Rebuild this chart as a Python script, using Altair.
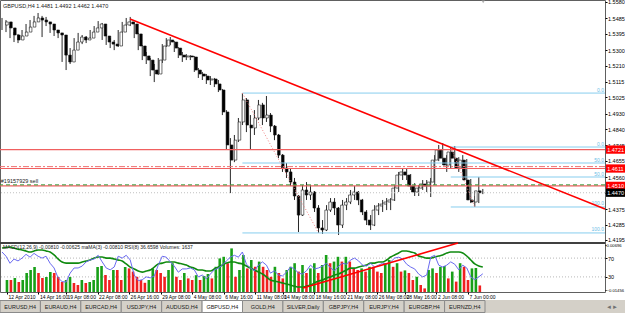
import altair as alt
import pandas as pd

# ---------------- data ----------------
first_open = 1.5446
closes = [1.5464,1.5429,1.5388,1.5359,1.5382,1.5405,1.5434,1.5464,1.5487,1.5475,
          1.5464,1.5452,1.5417,1.5400,1.5388,1.5271,1.5231,1.5300,1.5347,1.5376,
          1.5359,1.5370,1.5405,1.5429,1.5452,1.5382,1.5347,1.5335,1.5324,1.5405,
          1.5446,1.5464,1.5452,1.5394,1.5324,1.5266,1.5242,1.5184,1.5161,1.5242,
          1.5324,1.5359,1.5347,1.5312,1.5271,1.5260,1.5266,1.5260,1.5184,1.5161,
          1.5149,1.5126,1.5132,1.5103,1.5068,1.4940,1.4748,1.4660,1.4776,1.4882,
          1.5010,1.4864,1.4847,1.4905,1.4981,1.4905,1.4922,1.4858,1.4806,1.4689,
          1.4614,1.4591,1.4532,1.4451,1.4340,1.4486,1.4457,1.4474,1.4381,1.4265,
          1.4253,1.4369,1.4416,1.4381,1.4282,1.4398,1.4416,1.4457,1.4474,1.4428,
          1.4358,1.4311,1.4282,1.4369,1.4393,1.4404,1.4416,1.4428,1.4497,1.4573,
          1.4591,1.4573,1.4509,1.4474,1.4497,1.4521,1.4509,1.4532,1.4660,1.4719,
          1.4671,1.4631,1.4707,1.4671,1.4614,1.4660,1.4544,1.4428,1.4416,1.4481,
          1.4470]
highs = [1.5487,1.5475,1.5440,1.5405,1.5394,1.5417,1.5452,1.5475,1.5499,1.5516,
         1.5499,1.5493,1.5464,1.5440,1.5411,1.5394,1.5300,1.5312,1.5370,1.5400,
         1.5388,1.5382,1.5417,1.5440,1.5469,1.5458,1.5394,1.5370,1.5359,1.5417,
         1.5464,1.5487,1.5493,1.5464,1.5400,1.5330,1.5289,1.5254,1.5219,1.5254,
         1.5335,1.5370,1.5376,1.5353,1.5318,1.5289,1.5277,1.5271,1.5266,1.5196,
         1.5173,1.5161,1.5149,1.5138,1.5126,1.5074,1.4951,1.4788,1.4806,1.4905,
         1.5050,1.5021,1.4922,1.4951,1.5010,1.4993,1.5033,1.4934,1.4864,1.4812,
         1.4695,1.4643,1.4614,1.4556,1.4457,1.4515,1.4532,1.4515,1.4480,1.4398,
         1.4311,1.4398,1.4439,1.4439,1.4387,1.4428,1.4439,1.4486,1.4509,1.4480,
         1.4434,1.4369,1.4340,1.4398,1.4410,1.4428,1.4439,1.4439,1.4515,1.4591,
         1.4614,1.4614,1.4579,1.4526,1.4515,1.4544,1.4544,1.4556,1.4689,1.4748,
         1.4759,1.4689,1.4730,1.4742,1.4677,1.4689,1.4666,1.4550,1.4451,1.4561,
         1.4492]
lows = [1.5417,1.5405,1.5370,1.5347,1.5341,1.5370,1.5400,1.5423,1.5452,1.5464,
        1.5376,1.5440,1.5400,1.5382,1.5370,1.5231,1.5184,1.5219,1.5289,1.5341,
        1.5335,1.5341,1.5359,1.5394,1.5417,1.5359,1.5330,1.5312,1.5300,1.5318,
        1.5400,1.5440,1.5440,1.5370,1.5300,1.5242,1.5219,1.5149,1.5114,1.5155,
        1.5225,1.5318,1.5330,1.5289,1.5254,1.5231,1.5242,1.5242,1.5173,1.5138,
        1.5126,1.5103,1.5097,1.5085,1.5056,1.4922,1.4719,1.4468,1.4648,1.4765,
        1.4864,1.4823,1.4719,1.4806,1.4893,1.4864,1.4882,1.4823,1.4776,1.4671,
        1.4591,1.4556,1.4509,1.4428,1.4241,1.4335,1.4428,1.4428,1.4358,1.4236,
        1.4230,1.4247,1.4358,1.4340,1.4224,1.4265,1.4369,1.4404,1.4428,1.4398,
        1.4340,1.4282,1.4253,1.4276,1.4340,1.4358,1.4369,1.4369,1.4422,1.4474,
        1.4544,1.4544,1.4486,1.4451,1.4451,1.4486,1.4474,1.4445,1.4515,1.4654,
        1.4631,1.4591,1.4614,1.4648,1.4591,1.4591,1.4515,1.4410,1.4387,1.4410,
        1.4462]
volumes = [3000,3000,3500,2500,3000,4750,5500,6250,4750,3500,
           3750,5000,4750,3750,2500,3000,3750,2250,1750,3000,
           2250,2500,3000,6250,6500,4250,3000,5500,5500,3000,
           6250,5900,5100,3800,3000,2300,3000,5900,5500,4750,
           3800,5500,7200,3800,3000,4750,3400,3000,4200,3000,
           4000,4500,3400,6300,8400,8800,7200,10900,3800,5500,
           9250,5900,8000,6300,7600,6300,5500,3800,6300,4750,
           3400,5500,6300,7200,5100,6750,4750,5900,7200,4750,
           6750,9250,7200,7600,8800,7600,8800,7600,5900,5500,
           5900,5100,6300,6300,5100,4750,7200,8000,6300,7200,
           5100,5400,4750,3000,3800,1750,900,5500,5900,4750,
           6300,6500,3400,5100,2600,7200,6300,3000,5900,6000,
           1637]
rsi_vals = [83,74,59,68,64,70,78,72,80,74,
            70,74,59,49,28,20,19,38,49,49,
            53,62,66,68,76,62,49,45,51,74,
            70,76,66,34,22,24,30,28,32,55,
            74,72,62,53,40,47,47,49,45,30,
            34,26,36,45,49,55,64,72,76,72,
            83,57,49,43,55,62,55,38,43,34,
            32,40,51,47,38,36,43,55,47,49,
            53,59,49,43,53,59,57,66,70,64,
            55,53,59,51,55,59,57,62,70,72,
            68,57,51,47,36,30,34,72,76,55,
            51,55,62,57,45,55,49,30,24,30,
            36.66]
osc_vals = [0.0055,0.0058,0.0060,0.0055,0.0050,0.0046,0.0041,0.0036,0.0041,0.0046,
            0.0046,0.0041,0.0036,0.0022,0.0003,-0.0012,-0.0017,-0.0017,-0.0017,-0.0017,
            -0.0012,-0.0007,-0.0002,0.0007,0.0012,0.0012,0.0007,0.0007,0.0003,-0.0002,
            -0.0007,-0.0021,-0.0036,-0.0045,-0.0055,-0.0060,-0.0055,-0.0050,-0.0036,-0.0021,
            -0.0017,-0.0012,-0.0012,-0.0012,-0.0017,-0.0021,-0.0026,-0.0036,-0.0041,-0.0050,
            -0.0050,-0.0055,-0.0055,-0.0045,-0.0036,-0.0026,-0.0017,-0.0012,-0.0012,-0.0017,
            -0.0021,-0.0031,-0.0041,-0.0050,-0.0060,-0.0069,-0.0083,-0.0098,-0.0103,-0.0107,
            -0.0112,-0.0117,-0.0122,-0.0127,-0.0131,-0.0131,-0.0127,-0.0122,-0.0112,-0.0103,
            -0.0098,-0.0088,-0.0083,-0.0074,-0.0069,-0.0060,-0.0050,-0.0041,-0.0041,-0.0036,
            -0.0031,-0.0026,-0.0017,-0.0017,-0.0012,-0.0012,-0.0002,0.0012,0.0022,0.0031,
            0.0041,0.0041,0.0036,0.0031,0.0017,0.0012,0.0007,0.0007,0.0012,0.0017,
            0.0022,0.0031,0.0036,0.0036,0.0036,0.0031,0.0017,-0.0002,-0.0021,-0.0031,
            -0.0036]

time_idx = [0, 8, 15, 23, 31, 39, 47, 55, 63, 70, 78, 86, 94, 101, 109, 117]
time_lbl = ["12 Apr 2010", "14 Apr 16:00", "19 Apr 08:00", "22 Apr 08:00", "26 Apr 16:00",
            "29 Apr 08:00", "4 May 08:00", "6 May 16:00", "11 May 08:00", "14 May 08:00",
            "18 May 16:00", "21 May 08:00", "26 May 08:00", "28 May 16:00", "2 Jun 08:00",
            "7 Jun 00:00"]
price_ticks = [1.5580, 1.5485, 1.5395, 1.5300, 1.5210, 1.5115, 1.5025, 1.4930, 1.4840,
               1.4745, 1.4655, 1.4560, 1.4470, 1.4375, 1.4285, 1.4195]

trend_i = [31.95, 150.5]
trend_p = [1.5481, 1.4375]
ind_trend_i = [75.1, 113.8]
ind_trend_v = [-0.0136, 0.0079]

red_levels = [1.4721, 1.4611, 1.4510]
sl_level = [1.4622]
order_level = [1.4516]
bid_level = [1.4470]

fib_start = [60, 112]
fib_end_i = [79, 118]
fib_top = [1.5050, 1.4736]
fib_mid = [1.4643, 1.45615]
fib_bot = [1.4236, 1.4387]

tabs = ["EURUSD,H4", "EURAUD,H4", "EURCAD,H4", "USDJPY,H4", "AUDUSD,H4", "GBPUSD,H4",
        "GOLD,H4", "SILVER,Daily", "GBPJPY,H4", "EURJPY,H4", "EURGBP,H4", "EURNZD,H4"]
active_tab = "GBPUSD,H4"

header_main = "GBPUSD,H4  1.4481 1.4492 1.4462 1.4470"
header_ind = "MACD(12,26,9) -0.00810 -0.00625  maMA(3) -0.00810  RSI(8) 36.6598  Volumes: 1637"
order_text = "#19157929 sell"

# ---------------- tables ----------------
n = len(closes)
opens = [first_open] + closes[:-1]
bars = pd.DataFrame({"i": list(range(n)), "open": opens, "high": highs, "low": lows,
                     "close": closes, "vol": volumes, "rsi": rsi_vals, "osc": osc_vals})
bars["dir"] = ["up" if c >= o else "down" for o, c in zip(opens, closes)]
bars["vdir"] = ["up"] + ["up" if v > p else "down" for p, v in zip(volumes[:-1], volumes[1:])]

FONT = "Liberation Sans"
XD = [-0.5, 150.5]
XR = 150.5


def xs():
    return alt.Scale(domain=XD, nice=False, zero=False)


def py():
    return alt.Scale(domain=[1.41775, 1.55858], range=[243, 1], nice=False, zero=False)


def vs():
    return alt.Scale(domain=[0, 12000], range=[292, 244], nice=False, zero=False)


def rs():
    return alt.Scale(domain=[0, 100], range=[291, 244], nice=False, zero=False)


def ms():
    return alt.Scale(domain=[-0.01456, 0.00696], range=[290, 245], nice=False, zero=False)


def X(field="i", axis=None):
    return alt.X(field, type="quantitative", scale=xs(), axis=axis)


def right_axis(values, fmt=None, size=5.5, tick=2, pad=0.5):
    kw = dict(orient="right", values=values, labelFontSize=size, labelFont=FONT,
              labelColor="black", tickSize=tick, tickColor="black", labelPadding=pad, domain=False,
              grid=False, title=None, labelOverlap=False)
    if fmt:
        kw["format"] = fmt
    return alt.Axis(**kw)


layers = []

# candles
wick = alt.Chart(bars).mark_rule(color="#101010", strokeWidth=0.9).encode(
    x=X(), y=alt.Y("low:Q", scale=py(), axis=right_axis(price_ticks, ".4f")),
    y2="high:Q")
body = alt.Chart(bars).mark_bar(size=2.6, stroke="#101010", strokeWidth=0.6).encode(
    x=X(), y=alt.Y("open:Q", scale=py(), axis=None), y2="close:Q",
    color=alt.Color("dir:N", scale=alt.Scale(domain=["up", "down"], range=["white", "black"]), legend=None))
layers += [wick, body]

# level lines
lv = pd.DataFrame({"p": red_levels})
layers.append(alt.Chart(lv).mark_rule(color="#f06060", strokeWidth=1.2).encode(
    y=alt.Y("p:Q", scale=py(), axis=None)))
layers.append(alt.Chart(pd.DataFrame({"p": sl_level})).mark_rule(
    color="#f07070", strokeWidth=1, strokeDash=[6, 2, 2, 2]).encode(y=alt.Y("p:Q", scale=py(), axis=None)))
layers.append(alt.Chart(pd.DataFrame({"p": order_level})).mark_rule(
    color="#3c9a3c", strokeWidth=1, strokeDash=[4, 3]).encode(y=alt.Y("p:Q", scale=py(), axis=None)))
layers.append(alt.Chart(pd.DataFrame({"p": bid_level})).mark_rule(
    color="#c0c0c0", strokeWidth=1, strokeDash=[1, 2]).encode(y=alt.Y("p:Q", scale=py(), axis=None)))

# fibonacci objects
fib_rows = []
for s, t, m, b in zip(fib_start, fib_top, fib_mid, fib_bot):
    fib_rows += [{"s": s, "e": XR, "p": t, "lab": "0.0"},
                 {"s": s, "e": XR, "p": m, "lab": "50.0"},
                 {"s": s, "e": XR, "p": b, "lab": "100.0"}]
fib = pd.DataFrame(fib_rows)
layers.append(alt.Chart(fib).mark_rule(color="#87cdee", strokeWidth=1).encode(
    x=X("s"), x2="e:Q", y=alt.Y("p:Q", scale=py(), axis=None)))
layers.append(alt.Chart(fib).mark_text(align="right", baseline="bottom", dx=-1, dy=-0.5, fontSize=5,
                                      font=FONT, color="#6cbde6").encode(
    x=X("e"), y=alt.Y("p:Q", scale=py(), axis=None), text="lab:N"))
diag_rows = []
for k, (s, e, t, b) in enumerate(zip(fib_start, fib_end_i, fib_top, fib_bot)):
    diag_rows += [{"g": k, "i": s, "p": t}, {"g": k, "i": e, "p": b}]
layers.append(alt.Chart(pd.DataFrame(diag_rows)).mark_line(
    color="#f08080", strokeWidth=1, strokeDash=[1, 2]).encode(
    x=X(), y=alt.Y("p:Q", scale=py(), axis=None), detail="g:N"))

# trend line
layers.append(alt.Chart(pd.DataFrame({"i": trend_i, "p": trend_p})).mark_line(
    color="#ff0000", strokeWidth=1.6).encode(x=X(), y=alt.Y("p:Q", scale=py(), axis=None)))

# order label
layers.append(alt.Chart(pd.DataFrame({"i": [-0.3], "p": order_level, "t": [order_text]})).mark_text(
    align="left", baseline="bottom", dy=-1, fontSize=5.5, font=FONT, color="#202020").encode(
    x=X(), y=alt.Y("p:Q", scale=py(), axis=None), text="t:N"))

# shift marker
layers.append(alt.Chart(pd.DataFrame({"i": [120.1], "p": [1.5582]})).mark_point(
    shape="triangle-down", size=14, filled=True, color="#909090").encode(
    x=X(), y=alt.Y("p:Q", scale=py(), axis=None)))

# panel separator
layers.append(alt.Chart(pd.DataFrame({"p": [1.41775]})).mark_rule(color="#404040", strokeWidth=2).encode(
    y=alt.Y("p:Q", scale=py(), axis=None)))

# ---------------- indicator window ----------------
layers.append(alt.Chart(pd.DataFrame({"r": [70, 30]})).mark_rule(
    color="#b8b8b8", strokeWidth=1, strokeDash=[1, 2]).encode(
    y=alt.Y("r:Q", scale=rs(), axis=right_axis([70, 30]))))
label_expr = ("[" + ",".join("'%s'" % s for s in time_lbl) + "][indexof(["
              + ",".join(str(v) for v in time_idx) + "], datum.value)]")
layers.append(alt.Chart(bars).mark_bar(size=2.6).encode(
    x=X(axis=alt.Axis(values=time_idx, labelExpr=label_expr,
                      orient="bottom", labelAlign="left", labelBaseline="top", labelFontSize=5,
                      labelFont=FONT, labelColor="black", tickSize=2, tickColor="black",
                      labelPadding=0.5, labelOffset=1, domain=False, grid=False, title=None,
                      labelOverlap=False, labelFlush=False)),
    y=alt.Y("vol:Q", scale=vs(), axis=None),
    y2=alt.datum(0),
    color=alt.Color("vdir:N", scale=alt.Scale(domain=["up", "down"], range=["#18a018", "#f02020"]), legend=None)))
layers.append(alt.Chart(bars).mark_line(color="#108a10", strokeWidth=1.6, interpolate="monotone").encode(
    x=X(), y=alt.Y("osc:Q", scale=ms(),
                   axis=right_axis([0.00696, -0.01456], ".5f", 4.2, tick=1, pad=0))))
layers.append(alt.Chart(bars).mark_line(color="#6a6af0", strokeWidth=1).encode(
    x=X(), y=alt.Y("rsi:Q", scale=rs(), axis=None)))
layers.append(alt.Chart(pd.DataFrame({"i": ind_trend_i, "v": ind_trend_v})).mark_line(
    color="#ff0000", strokeWidth=1.6).encode(x=X(), y=alt.Y("v:Q", scale=ms(), axis=None)))

# ---------------- right-axis price boxes ----------------
boxes = pd.DataFrame({"p": red_levels + bid_level,
                      "t": ["%.4f" % v for v in red_levels + bid_level],
                      "c": ["red"] * len(red_levels) + ["black"]})
boxes["lo"] = boxes["p"] - 0.0024
boxes["hi"] = boxes["p"] + 0.0024
boxes["x0"] = 150.75
boxes["x1"] = 156.5
layers.append(alt.Chart(boxes).mark_rect().encode(
    x=X("x0"), x2="x1:Q", y=alt.Y("lo:Q", scale=py(), axis=None), y2="hi:Q",
    color=alt.Color("c:N", scale=alt.Scale(domain=["red", "black"], range=["#ff0000", "#000000"]), legend=None)))
layers.append(alt.Chart(boxes).mark_text(align="left", baseline="middle", dx=1.2, fontSize=5.5, font=FONT,
                                         color="white").encode(
    x=X("x0"), y=alt.Y("p:Q", scale=py(), axis=None), text="t:N"))

# headers
layers.append(alt.Chart(pd.DataFrame({"t": [header_main]})).mark_text(
    align="left", baseline="middle", fontSize=5.5, font=FONT, color="#202020").encode(
    x=alt.value(3), y=alt.value(6), text="t:N"))
layers.append(alt.Chart(pd.DataFrame({"t": [header_ind]})).mark_text(
    align="left", baseline="middle", fontSize=5, font=FONT, color="#202020").encode(
    x=alt.value(3), y=alt.value(247), text="t:N"))

# ---------------- tab strip ----------------
layers.append(alt.Chart(pd.DataFrame({"a": [0]})).mark_rect(color="#d4d0c8").encode(
    x=alt.value(0), x2=alt.value(625), y=alt.value(300), y2=alt.value(313)))
tab_df = pd.DataFrame({"tab": tabs, "act": ["a" if t == active_tab else "n" for t in tabs]})
tab_x = alt.X("tab:N", sort=tabs, scale=alt.Scale(domain=tabs, range=[0, 485], paddingInner=0, paddingOuter=0),
              axis=None)
layers.append(alt.Chart(tab_df).mark_rect(stroke="#8a8a8a", strokeWidth=1).encode(
    x=tab_x, y=alt.value(300.5), y2=alt.value(312.5),
    color=alt.Color("act:N", scale=alt.Scale(domain=["a", "n"], range=["#ffffff", "#d4d0c8"]), legend=None)))
layers.append(alt.Chart(tab_df).mark_text(baseline="middle", fontSize=5.5, font=FONT, color="#202020").encode(
    x=tab_x, y=alt.value(306.5), text="tab:N"))
layers.append(alt.Chart(pd.DataFrame({"t": ["\u25c4", "\u25ba"], "k": [0, 1]})).mark_text(
    baseline="middle", fontSize=6, color="#707070").encode(
    x=alt.X("k:O", scale=alt.Scale(range=[606, 618]), axis=None), y=alt.value(306.5), text="t:N"))

chart = alt.layer(*layers).resolve_scale(x="independent", y="independent", color="independent").properties(
    width=605, height=292, autosize=alt.AutoSizeParams(type="none"),
    padding={"left": 0, "top": 0, "right": 20, "bottom": 21},
    background="white",
).configure_view(stroke="#606060", strokeWidth=1)

chart.save("out.html", embed_options={"renderer": "svg", "actions": False})
